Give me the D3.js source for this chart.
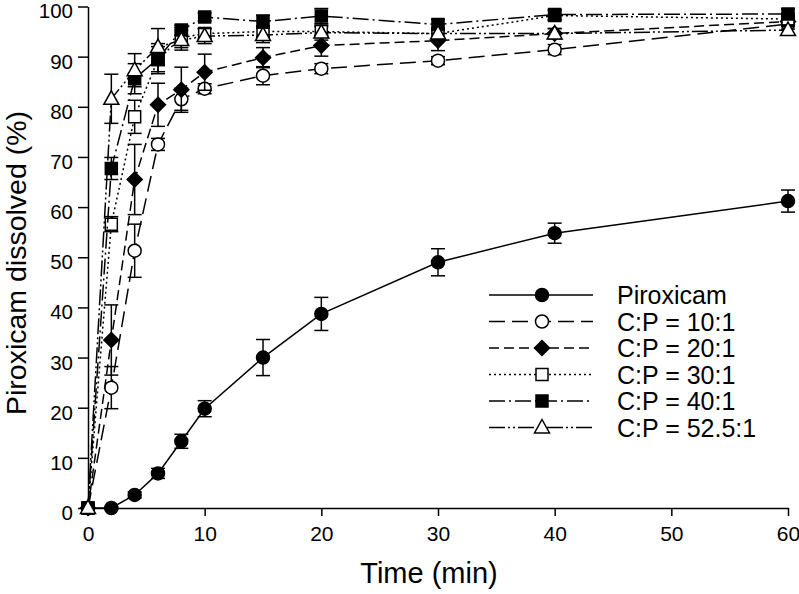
<!DOCTYPE html>
<html>
<head>
<meta charset="utf-8">
<script src="https://cdn.jsdelivr.net/npm/d3@7"></script>
<style>
  html, body { margin: 0; padding: 0; background: #fff; }
  svg { display: block; font-family: "Liberation Sans", Arial, sans-serif; }
</style>
</head>
<body>
<svg id="chart" width="799" height="594"></svg>
<script>
// ---- data ----
const time = [0, 2, 4, 6, 8, 10, 15, 20, 30, 40, 60];

const piroxicam    = [0, 0, 2.6, 6.9, 13.3, 19.8, 30.0, 38.7, 49.0, 54.8, 61.2];
const piroxicamErr = [0, 0.3, 0.6, 1.0, 1.4, 1.6, 3.6, 3.3, 2.7, 2.0, 2.2];

const cp10    = [0, 24.0, 51.3, 72.5, 81.5, 83.6, 86.2, 87.6, 89.2, 91.4, 96.5];
const cp10Err = [0, 4.2, 5.3, 1.2, 2.2, 1.0, 1.8, 1.0, 0.8, 1.0, 1.0];

const cp20    = [0, 33.5, 65.5, 80.4, 83.4, 86.9, 89.8, 92.2, 93.2, 94.6, 97.0];
const cp20Err = [0, 7.0, 7.0, 4.3, 4.5, 3.6, 2.0, 2.1, 2.0, 1.0, 1.0];

const cp30    = [0, 56.6, 78.0, 89.5, 93.8, 94.6, 95.0, 95.0, 94.6, 98.2, 97.5];
const cp30Err = [0, 1.5, 3.3, 2.5, 2.0, 1.0, 1.0, 1.0, 1.0, 1.0, 1.0];

const cp40    = [0, 67.7, 85.6, 89.6, 95.3, 97.9, 97.0, 98.1, 96.4, 98.4, 98.5];
const cp40Err = [0, 2.2, 3.0, 3.0, 1.0, 0.8, 1.3, 1.5, 1.0, 1.0, 1.0];

const cp52    = [0, 81.6, 87.3, 91.9, 93.3, 94.1, 94.3, 94.8, 94.6, 94.6, 95.3];
const cp52Err = [0, 4.9, 3.3, 3.7, 2.0, 1.5, 1.5, 1.5, 1.0, 1.0, 1.0];

const seriesNames = ["Piroxicam", "C:P = 10:1", "C:P = 20:1", "C:P = 30:1", "C:P = 40:1", "C:P = 52.5:1"];
const xTicks = [0, 10, 20, 30, 40, 50, 60];
const yTicks = [0, 10, 20, 30, 40, 50, 60, 70, 80, 90, 100];

// ---- styles ----
const styles = [
  { marker: "circle",   fill: "#000", dash: null },
  { marker: "circle",   fill: "#fff", dash: "16,7" },
  { marker: "diamond",  fill: "#000", dash: "10,5" },
  { marker: "square",   fill: "#fff", dash: "2,3" },
  { marker: "square",   fill: "#000", dash: "16,4,2,4" },
  { marker: "triangle", fill: "#fff", dash: "16,3,2,3,2,3" }
];

const values = [piroxicam, cp10, cp20, cp30, cp40, cp52];
const errors = [piroxicamErr, cp10Err, cp20Err, cp30Err, cp40Err, cp52Err];
const series = seriesNames.map((name, i) => ({
  name, style: styles[i],
  points: time.map((t, j) => ({ t, v: values[i][j], e: errors[i][j] }))
}));

const svg = d3.select("#chart");
const x = d3.scaleLinear().domain([0, 60]).range([88, 788]);
const y = d3.scaleLinear().domain([0, 100]).range([508, 6.5]);

function markerPath(type) {
  if (type === "circle") return d3.symbol(d3.symbolCircle, Math.PI * 6.5 * 6.5)();
  if (type === "square") return d3.symbol(d3.symbolSquare, 12 * 12)();
  if (type === "diamond") return "M0,-7.5L7.5,0L0,7.5L-7.5,0Z";
  if (type === "triangle") return "M0,-8L7.5,5.5L-7.5,5.5Z";
}

// axes
const xAxis = d3.axisBottom(x).tickValues(xTicks).tickSize(8).tickSizeOuter(0).tickPadding(10);
const yAxis = d3.axisLeft(y).tickValues(yTicks).tickSize(10).tickSizeOuter(0).tickPadding(5);

const gx = svg.append("g").attr("transform", "translate(0,508)").call(xAxis);
const gy = svg.append("g").attr("transform", "translate(88,0)").call(yAxis);
[gx, gy].forEach(g => {
  g.selectAll("path.domain").attr("stroke", "#000").attr("stroke-width", 1.5);
  g.selectAll(".tick line").attr("stroke", "#000").attr("stroke-width", 1.5);
  g.selectAll(".tick text").attr("fill", "#000").attr("font-size", 21)
    .attr("font-family", "Liberation Sans, Arial, sans-serif");
});
gy.selectAll(".tick text").attr("font-size", 20.5).attr("dy", "0.56em");

// axis labels
svg.append("text").attr("x", 429).attr("y", 583).attr("text-anchor", "middle")
  .attr("font-size", 29).text("Time (min)");
svg.append("text").attr("transform", "translate(26,263) rotate(-90)").attr("text-anchor", "middle")
  .attr("font-size", 28.5).text("Piroxicam dissolved (%)");

// series
const line = d3.line().x(d => x(d.t)).y(d => y(d.v));
series.forEach(s => {
  const g = svg.append("g");
  g.append("path").attr("d", line(s.points)).attr("fill", "none")
    .attr("stroke", "#000").attr("stroke-width", 1.5)
    .attr("stroke-dasharray", s.style.dash);
  const eb = g.selectAll(".eb").data(s.points.filter(p => p.e > 0)).enter().append("g");
  eb.append("line").attr("x1", d => x(d.t)).attr("x2", d => x(d.t))
    .attr("y1", d => y(d.v - d.e)).attr("y2", d => y(d.v + d.e))
    .attr("stroke", "#000").attr("stroke-width", 1.5);
  [1, -1].forEach(sg => {
    eb.append("line").attr("x1", d => x(d.t) - 7).attr("x2", d => x(d.t) + 7)
      .attr("y1", d => y(d.v + sg * d.e)).attr("y2", d => y(d.v + sg * d.e))
      .attr("stroke", "#000").attr("stroke-width", 1.5);
  });
  g.selectAll(".mk").data(s.points).enter().append("path")
    .attr("d", markerPath(s.style.marker))
    .attr("transform", d => `translate(${x(d.t)},${y(d.v)})`)
    .attr("fill", s.style.fill).attr("stroke", "#000").attr("stroke-width", 1.5);
});

// legend
const legY0 = 295, legStep = 26.5;
series.forEach((s, i) => {
  const ly = legY0 + i * legStep;
  const g = svg.append("g");
  g.append("line").attr("x1", 489).attr("x2", 593).attr("y1", ly).attr("y2", ly)
    .attr("stroke", "#000").attr("stroke-width", 1.5).attr("stroke-dasharray", s.style.dash);
  g.append("path").attr("d", markerPath(s.style.marker))
    .attr("transform", `translate(542,${ly})`)
    .attr("fill", s.style.fill).attr("stroke", "#000").attr("stroke-width", 1.5);
  g.append("text").attr("x", 617).attr("y", ly + 9).attr("font-size", 25).text(s.name);
});
</script>
</body>
</html>
